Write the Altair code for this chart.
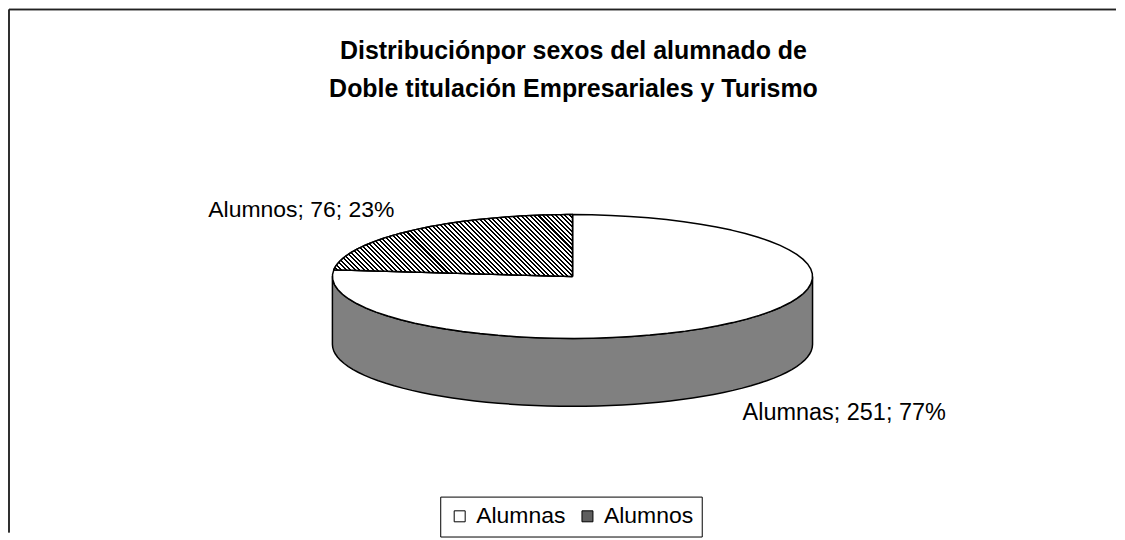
import math
import altair as alt
import pandas as pd

# ---- data ----
categorias = ["Alumnas", "Alumnos"]
valores = [251, 76]
titulo = ["Distribuciónpor sexos del alumnado de",
          "Doble titulación Empresariales y Turismo"]

df = pd.DataFrame({"sexo": categorias, "valor": valores})

# ---- layout / style constants (canvas pixels) ----
W, H = 1109, 524
CX, CY, RX, RY, DEPTH = 564.5, 267.5, 240.5, 62.0, 68.0
N = 60
FONT = "Liberation Sans"

xs = alt.Scale(domain=[0, W], nice=False, zero=False)
ys = alt.Scale(domain=[0, H], reverse=True, nice=False, zero=False)
X = alt.X("px:Q", scale=xs, axis=None)
Y = alt.Y("py:Q", scale=ys, axis=None)

# hatch gradient (diagonal stripes, "\\" direction) for the Alumnos slice
frac_alumnos = valores[1] / sum(valores)
a_start = (1 - frac_alumnos) * 2 * math.pi
bw = RX * abs(math.sin(a_start))
bh = RY
r = bh / bw
s = (1 + r) / (1 + r * r)
P = int(round(bw * s / 4.2))
stops = []
for i in range(P):
    stops += [alt.GradientStop(color="black", offset=i / P),
              alt.GradientStop(color="black", offset=(i + 0.45) / P),
              alt.GradientStop(color="white", offset=(i + 0.45) / P),
              alt.GradientStop(color="white", offset=(i + 1) / P)]
hatch = alt.LinearGradient(gradient="linear", stops=stops,
                           x1=0, y1=1, x2=s, y2=1 - s * r)

base = alt.Chart(df).transform_joinaggregate(
    total="sum(valor)"
).transform_window(
    cum="sum(valor)", frame=[None, 0]
).transform_calculate(
    a0="(datum.cum - datum.valor) / datum.total * 360",
    a1="datum.cum / datum.total * 360",
    pct="round(datum.valor / datum.total * 100)",
)

# side wall (front half only)
side = base.transform_calculate(
    s="max(datum.a0, 90)", e="min(datum.a1, 270)"
).transform_filter("datum.s < datum.e").transform_calculate(
    k=f"sequence(0, {2 * N + 3})"
).transform_flatten(["k"]).transform_calculate(
    j=f"datum.k <= {N} ? datum.k : (datum.k <= {2 * N + 1} ? {2 * N + 1} - datum.k : 0)",
    bot=f"datum.k > {N} && datum.k <= {2 * N + 1} ? 1 : 0",
    th=f"(datum.s + (datum.e - datum.s) * datum.j / {N}) * PI / 180",
    px=f"{CX} + {RX} * sin(datum.th)",
    py=f"{CY} - {RY} * cos(datum.th) + datum.bot * {DEPTH}",
).mark_line(filled=True, fill="#808080", stroke="black", strokeWidth=1.5,
            strokeJoin="round").encode(
    x=X, y=Y, detail="sexo:N", order=alt.Order("k:Q")
)

# top surface slices
top_data = base.transform_calculate(
    k=f"sequence(-1, {N + 2})"
).transform_flatten(["k"]).transform_calculate(
    th=f"(datum.a0 + (datum.a1 - datum.a0) * clamp(datum.k, 0, {N}) / {N}) * PI / 180",
    ctr=f"datum.k < 0 || datum.k > {N} ? 1 : 0",
    px=f"datum.ctr ? {CX} : {CX} + {RX} * sin(datum.th)",
    py=f"datum.ctr ? {CY} : {CY} - {RY} * cos(datum.th)",
)

top = top_data.mark_line(filled=True, stroke="black", strokeWidth=1.5,
                         strokeJoin="round").encode(
    x=X, y=Y, order=alt.Order("k:Q"),
    fill=alt.Fill("sexo:N",
                  scale=alt.Scale(domain=categorias, range=["white", "#5e5e5e"]),
                  legend=alt.Legend(title=None, orient="none", legendX=432, legendY=488,
                                    direction="horizontal", symbolType="square",
                                    symbolSize=121, symbolStrokeColor="black",
                                    symbolStrokeWidth=1, labelFont=FONT,
                                    labelFontSize=23, labelColor="black",
                                    labelOffset=5, columnPadding=10, padding=8,
                                    strokeColor="black", fillColor="white")),
)

top_hatch = top_data.transform_filter(
    f"datum.sexo == '{categorias[1]}'"
).mark_line(filled=True, fill=hatch, stroke="black", strokeWidth=1.5,
            strokeJoin="round").encode(x=X, y=Y, order=alt.Order("k:Q"))

# labels
lab = base.transform_calculate(
    m="(datum.a0 + datum.a1) / 2 * PI / 180",
    px=f"{CX} + {RX} * sin(datum.m)",
    py=f"{CY} - {RY} * cos(datum.m) + (cos(datum.m) < 0 ? {DEPTH} : 0)",
    txt="datum.sexo + '; ' + datum.valor + '; ' + datum.pct + '%'",
)
lab_left = lab.transform_filter("sin(datum.m) < 0").mark_text(
    align="right", baseline="alphabetic", dx=-18, dy=-13,
    font=FONT, fontSize=23, color="black"
).encode(x=X, y=Y, text="txt:N")
lab_right = lab.transform_filter("sin(datum.m) >= 0").mark_text(
    align="left", baseline="alphabetic", dx=10, dy=30,
    font=FONT, fontSize=23.5, color="black"
).encode(x=X, y=Y, text="txt:N")

# chart frame (top and left edges visible in the reference)
frame_top = alt.Chart(df).mark_rule(color="#222", strokeWidth=1.5).encode(
    x=alt.value(0), x2=alt.value(W), y=alt.value(0))
frame_left = alt.Chart(df).mark_rule(color="#222", strokeWidth=1.5).encode(
    x=alt.value(0), y=alt.value(0), y2=alt.value(H))

chart = alt.layer(
    frame_top, frame_left, side, top, top_hatch, lab_left, lab_right
).properties(
    width=W, height=H, padding=0, background="white",
    title=alt.TitleParams(text=titulo, font=FONT, fontSize=25, fontWeight="bold",
                          color="black", anchor="middle", frame="group",
                          offset=-93, lineHeight=38, dx=11),
).configure_view(stroke=None)

chart.save("out.html", embed_options={"renderer": "svg", "actions": False})
